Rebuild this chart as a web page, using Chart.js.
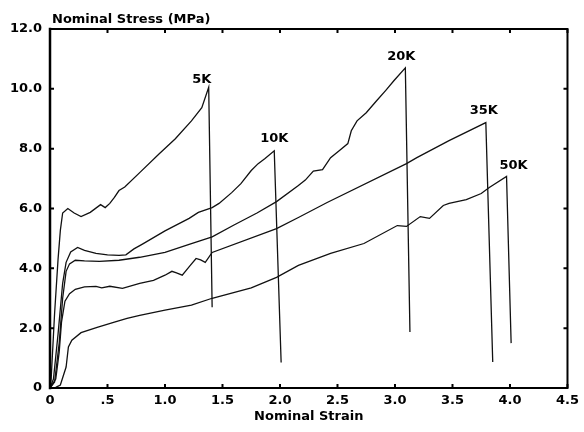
<!DOCTYPE html>
<html>
<head>
<meta charset="utf-8">
<script src="https://cdn.jsdelivr.net/npm/chart.js@4.4.1/dist/chart.umd.min.js"></script>
<style>
  html, body { margin: 0; padding: 0; background: #fff; }
  canvas { display: block; }
</style>
</head>
<body>
<canvas id="chart" width="584" height="432"></canvas>
<script>
// series names (printed next to each peak)
const seriesNames = ['5K', '10K', '20K', '35K', '50K'];

// strain / stress readings for each curve
const x5K  = [0, 0.01, 0.04, 0.07, 0.09, 0.11, 0.155, 0.21, 0.27, 0.35, 0.44, 0.48, 0.52, 0.56, 0.6, 0.65, 0.78, 0.95, 1.09, 1.23, 1.32, 1.38, 1.41];
const y5K  = [0, 0.3, 2.5, 4.3, 5.27, 5.85, 6.0, 5.85, 5.73, 5.87, 6.13, 6.03, 6.17, 6.37, 6.6, 6.72, 7.2, 7.83, 8.33, 8.93, 9.37, 10.05, 2.7];

const x10K = [0, 0.03, 0.07, 0.11, 0.14, 0.18, 0.24, 0.3, 0.4, 0.5, 0.6, 0.66, 0.73, 0.8, 1.0, 1.21, 1.29, 1.41, 1.47, 1.58, 1.66, 1.75, 1.81, 1.87, 1.95, 2.01];
const y10K = [0, 0.3, 1.8, 3.5, 4.2, 4.55, 4.7, 4.6, 4.5, 4.45, 4.43, 4.45, 4.65, 4.8, 5.25, 5.67, 5.87, 6.03, 6.17, 6.53, 6.83, 7.27, 7.5, 7.67, 7.93, 0.85];

const x20K = [0, 0.04, 0.08, 0.11, 0.14, 0.17, 0.22, 0.3, 0.43, 0.6, 0.78, 1.0, 1.21, 1.41, 1.6, 1.8, 1.97, 2.16, 2.22, 2.29, 2.37, 2.44, 2.52, 2.59, 2.62, 2.67, 2.75, 2.84, 2.92, 2.99, 3.09, 3.13];
const y20K = [0, 0.2, 1.5, 3.0, 3.9, 4.15, 4.27, 4.25, 4.23, 4.27, 4.37, 4.53, 4.8, 5.05, 5.45, 5.85, 6.23, 6.77, 6.95, 7.25, 7.3, 7.7, 7.95, 8.17, 8.6, 8.93, 9.2, 9.6, 9.95, 10.27, 10.7, 1.87];

const x35K = [0, 0.05, 0.08, 0.1, 0.13, 0.17, 0.22, 0.3, 0.4, 0.45, 0.52, 0.63, 0.78, 0.9, 1.0, 1.06, 1.1, 1.15, 1.22, 1.27, 1.31, 1.35, 1.41, 1.97, 2.16, 2.41, 3.1, 3.19, 3.47, 3.79, 3.85];
const y35K = [0, 0.3, 1.2, 2.2, 2.9, 3.15, 3.3, 3.38, 3.4, 3.35, 3.4, 3.33, 3.5, 3.6, 3.77, 3.9, 3.85, 3.77, 4.1, 4.33, 4.28, 4.2, 4.53, 5.33, 5.7, 6.2, 7.5, 7.7, 8.27, 8.87, 0.87];

const x50K = [0, 0.05, 0.09, 0.14, 0.16, 0.19, 0.27, 0.41, 0.56, 0.67, 0.78, 1.0, 1.23, 1.41, 1.75, 1.97, 2.16, 2.44, 2.73, 3.02, 3.1, 3.22, 3.3, 3.42, 3.47, 3.62, 3.75, 3.82, 3.97, 4.01];
const y50K = [0, 0.02, 0.1, 0.7, 1.37, 1.6, 1.85, 2.03, 2.2, 2.33, 2.43, 2.6, 2.77, 3.0, 3.35, 3.7, 4.1, 4.5, 4.83, 5.43, 5.4, 5.73, 5.67, 6.1, 6.17, 6.3, 6.5, 6.7, 7.07, 1.5];

// axis ticks
const xTickValues = [0, 0.5, 1.0, 1.5, 2.0, 2.5, 3.0, 3.5, 4.0, 4.5];
const xTickLabels = ['0', '.5', '1.0', '1.5', '2.0', '2.5', '3.0', '3.5', '4.0', '4.5'];
const yTickValues = [0, 2, 4, 6, 8, 10, 12];
const yTickLabels = ['0', '2.0', '4.0', '6.0', '8.0', '10.0', '12.0'];

const xSeries = [x5K, x10K, x20K, x35K, x50K];
const ySeries = [y5K, y10K, y20K, y35K, y50K];

// label offset from each peak, in pixels
const labelOffsets = [[-7, -8], [0, -12], [-4, -11], [-2, -12], [7, -11]];

const FONT = 'DejaVu Sans';
const INK = '#000';

const datasets = seriesNames.map((name, i) => ({
  label: name,
  data: xSeries[i].map((x, j) => ({ x: x, y: ySeries[i][j] })),
  showLine: true,
  borderColor: '#111',
  borderWidth: 1.3,
  pointRadius: 0,
  tension: 0,
  fill: false,
}));

const framePlugin = {
  id: 'frame',
  afterDatasetsDraw(chart) {
    const { ctx, chartArea: a, scales } = chart;
    ctx.save();
    ctx.strokeStyle = INK;
    ctx.lineCap = 'square';

    // box
    ctx.lineWidth = 2;
    ctx.beginPath();
    ctx.moveTo(a.left, a.top); ctx.lineTo(a.right, a.top);
    ctx.lineTo(a.right, a.bottom); ctx.lineTo(a.left, a.bottom);
    ctx.stroke();
    ctx.lineWidth = 2.5;
    ctx.beginPath();
    ctx.moveTo(a.left, a.top); ctx.lineTo(a.left, a.bottom);
    ctx.stroke();

    // inward ticks
    ctx.lineWidth = 2;
    ctx.lineCap = 'butt';
    ctx.beginPath();
    xTickValues.forEach(v => {
      const px = scales.x.getPixelForValue(v);
      ctx.moveTo(px, a.bottom); ctx.lineTo(px, a.bottom - 4);
      ctx.moveTo(px, a.top); ctx.lineTo(px, a.top + 4);
    });
    yTickValues.forEach(v => {
      const py = scales.y.getPixelForValue(v);
      ctx.moveTo(a.left, py); ctx.lineTo(a.left + 4, py);
      ctx.moveTo(a.right, py); ctx.lineTo(a.right - 4, py);
    });
    ctx.stroke();

    // y axis title at top left
    ctx.fillStyle = INK;
    ctx.font = 'bold 13px "' + FONT + '"';
    ctx.textAlign = 'left';
    ctx.textBaseline = 'middle';
    ctx.fillText('Nominal Stress (MPa)', a.left + 2, 20);

    // series labels above each peak
    ctx.textAlign = 'center';
    chart.data.datasets.forEach((ds, i) => {
      let peak = ds.data[0];
      ds.data.forEach(p => { if (p.y > peak.y) peak = p; });
      const px = scales.x.getPixelForValue(peak.x) + labelOffsets[i][0];
      const py = scales.y.getPixelForValue(peak.y) + labelOffsets[i][1];
      ctx.fillText(ds.label, px, py);
    });
    ctx.restore();
  }
};

new Chart(document.getElementById('chart'), {
  type: 'scatter',
  data: { datasets: datasets },
  options: {
    responsive: false,
    animation: false,
    layout: { padding: { left: 0, right: 11, top: 29, bottom: 0 } },
    plugins: { legend: { display: false }, tooltip: { enabled: false } },
    scales: {
      x: {
        type: 'linear',
        min: 0,
        max: 4.5,
        afterBuildTicks: (s) => { s.ticks = xTickValues.map(v => ({ value: v })); },
        afterFit: (s) => { s.height = 44; },
        grid: { display: false, drawTicks: false },
        border: { display: false },
        ticks: {
          padding: 5,
          color: INK,
          maxRotation: 0,
          autoSkip: false,
          font: { family: FONT, size: 13, weight: 'bold' },
          callback: (v) => xTickLabels[xTickValues.indexOf(v)],
        },
        title: {
          display: true,
          text: 'Nominal Strain',
          color: INK,
          font: { family: FONT, size: 13, weight: 'bold' },
          padding: { top: 4, bottom: 8 },
        },
      },
      y: {
        type: 'linear',
        min: 0,
        max: 12,
        afterBuildTicks: (s) => { s.ticks = yTickValues.map(v => ({ value: v })); },
        afterFit: (s) => { s.width = 50; },
        grid: { display: false, drawTicks: false },
        border: { display: false },
        ticks: {
          padding: 8,
          color: INK,
          autoSkip: false,
          font: { family: FONT, size: 13, weight: 'bold' },
          callback: (v) => yTickLabels[yTickValues.indexOf(v)],
        },
      },
    },
  },
  plugins: [framePlugin],
});
</script>
</body>
</html>
